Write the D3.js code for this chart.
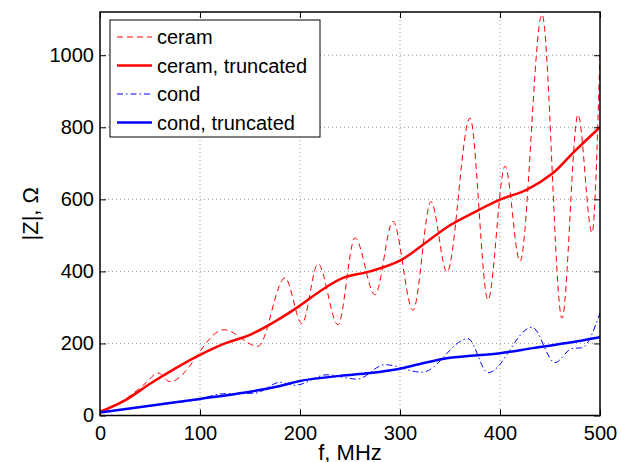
<!DOCTYPE html>
<html>
<head>
<meta charset="utf-8">
<script src="https://cdn.jsdelivr.net/npm/d3@7"></script>
<style>
  body { margin: 0; background: #fff; }
  svg { display: block; font-family: "Liberation Sans", Arial, Helvetica, sans-serif; }
</style>
</head>
<body>
<svg id="chart" width="621" height="462"></svg>
<script>
// values (f in MHz, |Z| in ohm)
var ceramF = [0, 25, 45, 58, 70, 124, 158, 185, 202, 218, 238, 255, 275, 293, 313, 331, 347, 370, 388, 405, 420, 442, 462, 478, 492, 500];
var ceramZ = [10, 45, 88, 118, 94, 238, 192, 382, 255, 421, 252, 493, 335, 539, 292, 594, 398, 826, 321, 692, 428, 1113, 270, 835, 507, 1007];

var ceramTruncF = [0, 25, 50, 75, 100, 125, 150, 175, 200, 220, 243, 270, 300, 323, 350, 375, 400, 427, 453, 473, 500];
var ceramTruncZ = [10, 42, 88, 130, 168, 200, 224, 261, 305, 345, 382, 400, 430, 474, 528, 565, 599, 627, 673, 729, 800];

var condF = [0, 50, 100, 122, 155, 180, 195, 227, 257, 285, 322, 368, 388, 432, 455, 472, 482, 500];
var condZ = [8, 27, 46, 60, 62, 92, 84, 113, 101, 141, 120, 213, 119, 245, 147, 186, 188, 285];

var condTruncF = [0, 50, 100, 150, 180, 200, 240, 270, 300, 320, 350, 400, 433, 467, 500];
var condTruncZ = [8, 27, 46, 66, 82, 96, 110, 118, 130, 143, 160, 173, 187, 201, 217];

var xTicks = [0, 100, 200, 300, 400, 500];
var yTicks = [0, 200, 400, 600, 800, 1000];
var legendLabels = ["ceram", "ceram, truncated", "cond", "cond, truncated"];

var svg = d3.select("#chart"),
    boxL = 100, boxR = 600, boxT = 12, boxB = 415.5,
    x = d3.scaleLinear().domain([0, 500]).range([boxL, boxR]),
    y = d3.scaleLinear().domain([0, 1120]).range([boxB, boxT]);

var series = [
  {f: ceramF, z: ceramZ, color: "#ff0000", width: 1, dash: "6,4", curve: d3.curveMonotoneX},
  {f: ceramTruncF, z: ceramTruncZ, color: "#ff0000", width: 2.5, dash: null, curve: d3.curveCatmullRom},
  {f: condF, z: condZ, color: "#0000ff", width: 1, dash: "6,3,1.5,3", curve: d3.curveMonotoneX},
  {f: condTruncF, z: condTruncZ, color: "#0000ff", width: 2.5, dash: null, curve: d3.curveCatmullRom}
];

//
// dotted grid
var grid = svg.append("g").attr("stroke", "#9a9a9a").attr("stroke-dasharray", "1,3");
grid.selectAll("line.gx").data(xTicks.slice(1, -1)).enter().append("line")
  .attr("x1", x).attr("x2", x).attr("y1", boxT).attr("y2", boxB);
grid.selectAll("line.gy").data(yTicks.slice(1)).enter().append("line")
  .attr("x1", boxL).attr("x2", boxR).attr("y1", y).attr("y2", y);

//
// curves, clipped to the axes box
svg.append("clipPath").attr("id", "box").append("rect")
  .attr("x", boxL).attr("y", boxT).attr("width", boxR - boxL).attr("height", boxB - boxT);

var plot = svg.append("g").attr("clip-path", "url(#box)");
series.forEach(function(s) {
  var pts = s.f.map((f, i) => [f, s.z[i]]);
  plot.append("path")
    .attr("d", d3.line().x(d => x(d[0])).y(d => y(d[1])).curve(s.curve)(pts))
    .attr("fill", "none")
    .attr("stroke", s.color)
    .attr("stroke-width", s.width)
    .attr("stroke-dasharray", s.dash);
});

//
// axes: inward ticks on all four sides
var tickLen = 6, fmt = d3.format("d");
svg.append("g").attr("transform", "translate(0," + boxB + ")")
  .call(d3.axisBottom(x).tickValues(xTicks).tickFormat(fmt).tickSizeInner(-tickLen).tickSizeOuter(0).tickPadding(10));
svg.append("g").attr("transform", "translate(0," + boxT + ")")
  .call(d3.axisTop(x).tickValues(xTicks).tickSizeInner(-tickLen).tickSizeOuter(0).tickFormat(""));
svg.append("g").attr("transform", "translate(" + boxL + ",0)")
  .call(d3.axisLeft(y).tickValues(yTicks).tickFormat(fmt).tickSizeInner(-tickLen).tickSizeOuter(0).tickPadding(6));
svg.append("g").attr("transform", "translate(" + boxR + ",0)")
  .call(d3.axisRight(y).tickValues(yTicks).tickSizeInner(-tickLen).tickSizeOuter(0).tickFormat(""));

svg.selectAll(".domain").remove();
svg.selectAll(".tick line").attr("stroke", "#000").attr("stroke-width", 1);
svg.selectAll(".tick text").attr("font-size", 20).attr("fill", "#000")
  .attr("font-family", "Liberation Sans, Arial, sans-serif");

svg.append("rect")
  .attr("x", boxL).attr("y", boxT).attr("width", boxR - boxL).attr("height", boxB - boxT)
  .attr("fill", "none").attr("stroke", "#000").attr("stroke-width", 1.5);

//
// axis labels
svg.append("text").attr("x", (boxL + boxR) / 2).attr("y", 460)
  .attr("text-anchor", "middle").attr("font-size", 22).text("f, MHz");
svg.append("text").attr("transform", "translate(38," + ((boxT + boxB) / 2) + ") rotate(-90)")
  .attr("text-anchor", "middle").attr("font-size", 22).text("|Z|, \u03A9");

//
// legend
var legend = svg.append("g");
legend.append("rect").attr("x", 110).attr("y", 20).attr("width", 210).attr("height", 117)
  .attr("fill", "#fff").attr("stroke", "#000").attr("stroke-width", 1);
var rows = legend.selectAll("g.row").data(legendLabels).enter().append("g")
  .attr("transform", (d, i) => "translate(0," + (37 + i * 28.5) + ")");
rows.append("line").attr("x1", 117).attr("x2", 152)
  .attr("stroke", (d, i) => series[i].color)
  .attr("stroke-width", (d, i) => series[i].width)
  .attr("stroke-dasharray", (d, i) => series[i].dash);
rows.append("text").attr("x", 157).attr("y", 7).attr("font-size", 20).text(d => d);
</script>
</body>
</html>
